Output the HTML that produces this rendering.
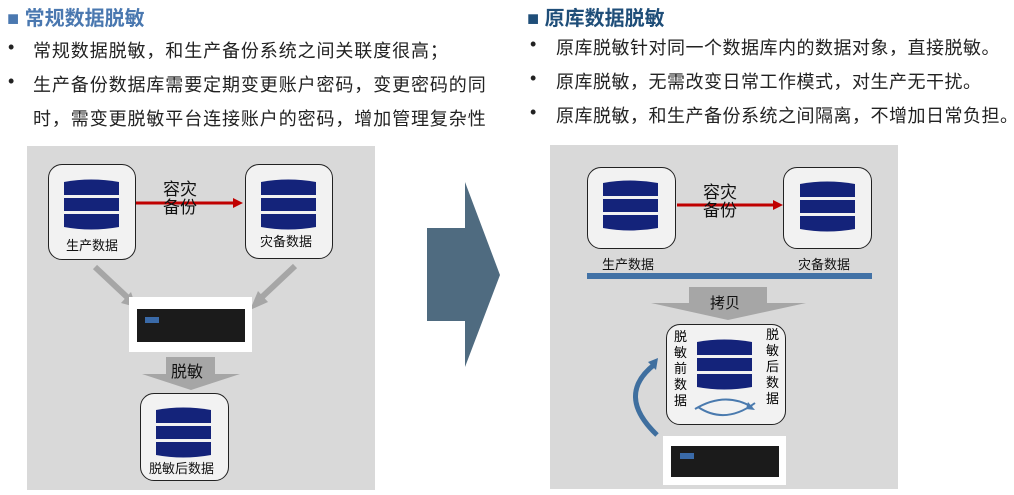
<!DOCTYPE html>
<html><head><meta charset="utf-8"><style>
body{margin:0;width:1014px;height:495px;background:#fff;position:relative;overflow:hidden;font-family:"Liberation Sans","Noto Sans CJK SC",sans-serif;}
.a{position:absolute;white-space:nowrap;}
.h{font-size:20px;font-weight:bold;}
.t{font-size:18px;color:#222;letter-spacing:0.5px;}
.box{position:absolute;background:#f2f2f2;border:1.5px solid #222;border-radius:14px;box-sizing:border-box;}
.lb{position:absolute;font-size:13px;color:#111;white-space:nowrap;}
.srv{position:absolute;background:#fff;}
.srv div{position:absolute;background:#1b1b1b;}
</style></head><body>
<svg width="0" height="0" style="position:absolute"><defs>
<g id="db"><path d="M0,3 Q27,-2 55,3 L55,16 L0,16Z" fill="#14237a"/><rect x="0" y="19" width="55" height="13" fill="#14237a"/><path d="M0,35 L55,35 L55,48 Q27,53 0,48Z" fill="#14237a"/></g>
</defs></svg>

<div class="a h" style="left:7px;top:2px;color:#4a78b0">■ 常规数据脱敏</div>
<div class="a t" style="left:8px;top:37px">•</div><div class="a t" style="left:33px;top:37px;letter-spacing:0.9px">常规数据脱敏，和生产备份系统之间关联度很高；</div>
<div class="a t" style="left:8px;top:71px">•</div><div class="a t" style="left:33px;top:71px;letter-spacing:0.9px">生产备份数据库需要定期变更账户密码，变更密码的同</div>
<div class="a t" style="left:33px;top:105px;letter-spacing:0.9px">时，需变更脱敏平台连接账户的密码，增加管理复杂性</div>

<div class="a h" style="left:527px;top:2px;color:#1f4e79">■ 原库数据脱敏</div>
<div class="a t" style="left:530px;top:34px">•</div><div class="a t" style="left:556px;top:34px">原库脱敏针对同一个数据库内的数据对象，直接脱敏。</div>
<div class="a t" style="left:530px;top:68px">•</div><div class="a t" style="left:556px;top:68px">原库脱敏，无需改变日常工作模式，对生产无干扰。</div>
<div class="a t" style="left:530px;top:102px">•</div><div class="a t" style="left:556px;top:102px">原库脱敏，和生产备份系统之间隔离，不增加日常负担。</div>

<!-- left panel -->
<div class="a" style="left:27px;top:146px;width:348px;height:344px;background:#d9d9d9"></div>
<svg class="a" style="left:0;top:0" width="1014" height="495">
<line x1="136" y1="203" x2="235" y2="203" stroke="#c00000" stroke-width="3"/>
<polygon points="233,198 243,203 233,208" fill="#c00000"/>
<line x1="95" y1="267" x2="128" y2="298" stroke="#a6a6a6" stroke-width="6"/>
<polygon points="121,303 136,307 131,292" fill="#a6a6a6"/>
<line x1="295" y1="266" x2="262" y2="297" stroke="#a6a6a6" stroke-width="6"/>
<polygon points="258,291 250,310 268,302" fill="#a6a6a6"/>
<polygon points="166,357 215,357 215,374 240,374 191,390 142,374 166,374" fill="#a6a6a6"/>
<polygon points="427,228 465,228 465,182 500,275 465,367 465,321 427,321" fill="#4f6b80"/>
<line x1="677" y1="205" x2="775" y2="205" stroke="#c00000" stroke-width="3"/>
<polygon points="773,200 783,205 773,210" fill="#c00000"/>
<rect x="587" y="273" width="285" height="6" fill="#4272a6"/>
<polygon points="689,287 767,287 767,303 806,303 728,320 651,303 689,303" fill="#a6a6a6"/>
<path d="M657,435 Q615,395 655,364" stroke="#3f6f9f" stroke-width="5" fill="none"/>
<polygon points="648,362 658,358 656,370" fill="#3f6f9f"/>
</svg>
<div class="a" style="left:163px;top:181px;font-size:17px;line-height:18px;color:#111">容灾<br>备份</div>

<div class="box" style="left:48px;top:164px;width:88px;height:96px"></div>
<svg class="a" style="left:64px;top:179px" width="55" height="52"><use href="#db"/></svg>
<div class="lb" style="left:66px;top:235px">生产数据</div>
<div class="box" style="left:245px;top:164px;width:88px;height:95px"></div>
<svg class="a" style="left:261px;top:179px" width="55" height="52"><use href="#db"/></svg>
<div class="lb" style="left:260px;top:231px">灾备数据</div>

<div class="srv" style="left:129px;top:297px;width:123px;height:55px"><div style="left:8px;top:12px;width:108px;height:33px"></div><div style="left:16px;top:20px;width:14px;height:6px;background:#3a6aa8"></div></div>
<div class="a" style="left:171px;top:358px;font-size:16px;color:#111">脱敏</div>

<div class="box" style="left:140px;top:393px;width:89px;height:88px"></div>
<svg class="a" style="left:156px;top:407px" width="55" height="52"><use href="#db"/></svg>
<div class="lb" style="left:149px;top:458px">脱敏后数据</div>

<div class="a" style="left:550px;top:145px;width:348px;height:344px;background:#d9d9d9;z-index:-1"></div>
<div class="a" style="left:703px;top:184px;font-size:17px;line-height:18px;color:#111">容灾<br>备份</div>
<div class="box" style="left:587px;top:167px;width:89px;height:82px"></div>
<svg class="a" style="left:603px;top:180px" width="55" height="52"><use href="#db"/></svg>
<div class="lb" style="left:602px;top:254px">生产数据</div>
<div class="box" style="left:783px;top:167px;width:89px;height:82px"></div>
<svg class="a" style="left:800px;top:181px" width="55" height="52"><use href="#db"/></svg>
<div class="lb" style="left:798px;top:254px">灾备数据</div>
<div class="a" style="left:710px;top:292px;font-size:15px;color:#111">拷贝</div>

<div class="box" style="left:666px;top:324px;width:120px;height:101px"></div>
<svg class="a" style="left:697px;top:339px" width="55" height="52"><use href="#db"/></svg>
<div class="a" style="left:674px;top:329px;font-size:13px;line-height:16px;width:14px;white-space:normal">脱敏前数据</div>
<div class="a" style="left:766px;top:327px;font-size:13px;line-height:16px;width:14px;white-space:normal">脱敏后数据</div>
<svg class="a" style="left:690px;top:393px" width="70" height="30">
<path d="M5,16 Q35,-2 62,14" stroke="#4a7aae" stroke-width="2" fill="none"/><polygon points="58,9 65,17 56,16" fill="#4a7aae"/>
<path d="M65,10 Q35,32 8,14" stroke="#4a7aae" stroke-width="2" fill="none"/>
</svg>

<div class="srv" style="left:663px;top:436px;width:123px;height:49px"><div style="left:8px;top:10px;width:108px;height:31px"></div><div style="left:17px;top:17px;width:14px;height:6px;background:#3a6aa8"></div></div>
</body></html>
